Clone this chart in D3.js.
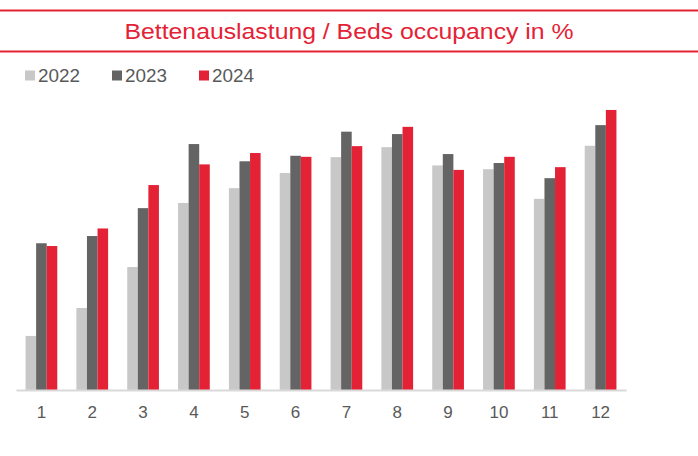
<!DOCTYPE html>
<html>
<head>
<meta charset="utf-8">
<script src="https://cdn.jsdelivr.net/npm/d3@7"></script>
<style>
  body { margin: 0; background: #fff; }
  text { font-family: "Liberation Sans", Arial, sans-serif; }
</style>
</head>
<body>
<div id="canvas"></div>
<script>
// DATA
const months = ["1", "2", "3", "4", "5", "6", "7", "8", "9", "10", "11", "12"];
const years = ["2022", "2023", "2024"];
const values2022 = [15.7, 23.8, 35.7, 54.3, 58.6, 63.0, 67.6, 70.5, 65.2, 64.1, 55.5, 70.9];
const values2023 = [42.6, 44.7, 52.8, 71.4, 66.4, 68.0, 75.0, 74.3, 68.5, 65.9, 61.5, 76.9];
const values2024 = [41.8, 46.9, 59.5, 65.5, 68.8, 67.7, 70.8, 76.4, 63.9, 67.7, 64.7, 81.3];
const colors = ["#c8c8c8", "#646464", "#e42236"];

// DIMENSIONS
const width = 698;
const height = 456;
const margin = { top: 80, right: 72, bottom: 66, left: 16 };

const series = [values2022, values2023, values2024];
const table = months.map((m, i) => {
  const row = { month: m };
  years.forEach((y, j) => row[y] = series[j][i]);
  return row;
});

// CANVAS
const canvas = d3.select("#canvas")
  .append("svg")
  .attr("width", width)
  .attr("height", height);

// HEADLINE
canvas.append("line")
  .attr("x1", 0).attr("x2", width)
  .attr("y1", 10.5).attr("y2", 10.5)
  .style("stroke", "#e42236")
  .style("stroke-width", 2);

canvas.append("line")
  .attr("x1", 0).attr("x2", width)
  .attr("y1", 51.5).attr("y2", 51.5)
  .style("stroke", "#e42236")
  .style("stroke-width", 2);

canvas.append("text")
  .attr("x", width / 2)
  .attr("y", 38.5)
  .attr("text-anchor", "middle")
  .attr("textLength", 449)
  .attr("lengthAdjust", "spacingAndGlyphs")
  .style("font-size", "22px")
  .style("fill", "#e42236")
  .text("Bettenauslastung / Beds occupancy in %");

// SCALES
const x0 = d3.scaleBand()
  .domain(months)
  .range([margin.left, width - margin.right])
  .paddingInner(0.376)
  .paddingOuter(0.188);

const x1 = d3.scaleBand()
  .domain(years)
  .range([0, x0.bandwidth()]);

const y = d3.scaleLinear()
  .domain([0, 90])
  .range([height - margin.bottom, margin.top]);

const color = d3.scaleOrdinal().domain(years).range(colors);

// BARS
canvas.append("g")
  .selectAll("g")
  .data(table)
  .join("g")
  .attr("transform", d => `translate(${x0(d.month)},0)`)
  .selectAll("rect")
  .data(d => years.map(k => ({ key: k, value: d[k] })))
  .join("rect")
  .attr("x", d => x1(d.key))
  .attr("y", d => y(d.value))
  .attr("width", x1.bandwidth())
  .attr("height", d => y(0) - y(d.value))
  .style("fill", d => color(d.key));

// AXIS
const xAxis = canvas.append("g")
  .attr("transform", `translate(0,${y(0)})`)
  .call(d3.axisBottom(x0).tickSize(0).tickPadding(16));

xAxis.select(".domain")
  .style("stroke", "#d9d9d9")
  .style("stroke-width", 2);

xAxis.selectAll("text")
  .style("font-family", "'Liberation Sans', Arial, sans-serif")
  .style("font-size", "17px")
  .style("fill", "#595959");

// LEGEND
const legendX = [25, 112, 199];
const legend = canvas.append("g")
  .selectAll("g")
  .data(years)
  .join("g")
  .attr("transform", (d, i) => `translate(${legendX[i]},70.5)`);

legend.append("rect")
  .attr("width", 10)
  .attr("height", 10)
  .style("fill", d => color(d));

legend.append("text")
  .attr("x", 13)
  .attr("y", 11.8)
  .attr("textLength", 42)
  .attr("lengthAdjust", "spacingAndGlyphs")
  .style("font-size", "18px")
  .style("fill", "#595959")
  .text(d => d);
</script>
</body>
</html>
